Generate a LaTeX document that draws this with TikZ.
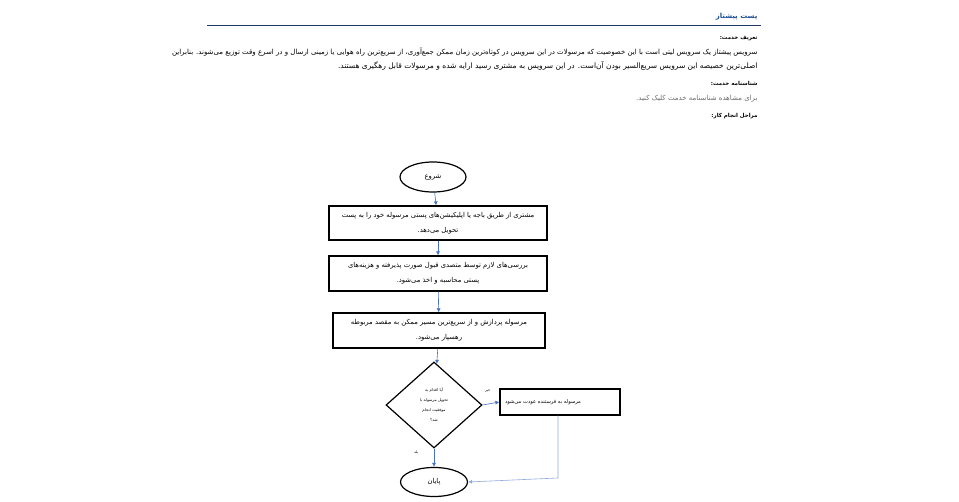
\documentclass[tikz,border=0pt]{standalone}
\usepackage{fontspec}
\usetikzlibrary{arrows.meta,shapes.geometric}
\newfontfamily\farsi[Script=Arabic]{DejaVu Sans}
\TeXXeTstate=1
\definecolor{flowblue}{RGB}{68,114,196}
\definecolor{titleblue}{RGB}{31,78,154}
\definecolor{rulenavy}{RGB}{31,56,100}
\definecolor{linkgray}{RGB}{110,110,110}

\begin{document}
\begin{tikzpicture}[x=1pt,y=-1pt,
    every node/.style={font=\farsi\fontsize{6.8}{15}\selectfont},
    heading/.style={anchor=east,font=\farsi\bfseries\fontsize{5.5}{7}\selectfont},
    textline/.style={anchor=east,font=\farsi\fontsize{7}{9}\selectfont},
    stepbox/.style={draw=black,line width=1.2pt,align=center,inner sep=2pt},
    terminal/.style={shape=ellipse,draw=black,line width=1.2pt,inner sep=0pt},
    decision/.style={shape=diamond,draw=black,line width=1.2pt,align=center,inner sep=0pt,
      font=\farsi\fontsize{4}{10}\selectfont},
    flow/.style={draw=flowblue,line width=0.6pt,-{Latex[length=4pt,width=4pt]}},
    small/.style={font=\farsi\fontsize{3.5}{4}\selectfont}]
    \useasboundingbox (0,0) rectangle (959,502);
    % header
    \node[heading,text=titleblue,font=\farsi\bfseries\fontsize{7}{9}\selectfont] (title) at (761,17) {\beginR پست پیشتاز\endR};
    \draw[rulenavy,line width=0.9pt] (207,25) -- (761,25);
    \node[heading] (def) at (761,38) {\beginR تعریف خدمت:\endR};
    \node[textline] (par1) at (761,52) {\beginR سرویس پیشتاز  یک سرویس لیتی است با این خصوصیت که مرسولات در این سرویس در کوتاه‌ترین زمان ممکن جمع‌آوری، از سریع‌ترین راه هوایی یا زمینی ارسال و در اسرع وقت توزیع می‌شوند. بنابراین\endR};
    \node[textline,font=\farsi\fontsize{7.5}{9}\selectfont] (par2) at (761,66) {\beginR اصلی‌ترین خصیصه این سرویس سریع‌السیر بودن آن‌است. در این سرویس به مشتری رسید ارایه شده و مرسولات قابل رهگیری هستند.\endR};
    \node[heading] (card) at (761,83) {\beginR شناسنامه خدمت:\endR};
    \node[textline,text=linkgray] (link) at (761,99) {\beginR برای مشاهده شناسنامه خدمت کلیک کنید.\endR};
    \node[heading] (steps) at (761,116) {\beginR مراحل انجام کار:\endR};
    % flowchart
    \node[terminal,minimum width=66pt,minimum height=30pt] (start) at (433,177) {\beginR شروع\endR};
    \node[stepbox,minimum width=218pt,minimum height=34pt] (s1) at (438,223)
        {\beginR مشتری از طریق باجه یا اپلیکیشن‌های پستی مرسوله خود را به پست\endR\\\beginR تحویل می‌دهد.\endR};
    \node[stepbox,minimum width=218pt,minimum height=35pt] (s2) at (438,273.5)
        {\beginR بررسی‌های لازم توسط متصدی قبول صورت پذیرفته و هزینه‌های\endR\\\beginR پستی محاسبه و اخذ می‌شود.\endR};
    \node[stepbox,minimum width=212pt,minimum height=35pt] (s3) at (439,330.5)
        {\beginR مرسوله پردازش و از سریع‌ترین مسیر ممکن به مقصد مربوطه\endR\\\beginR رهسپار می‌شود.\endR};
    \node[decision,minimum width=96pt,minimum height=86pt] (ask) at (434,405)
        {\beginR آیا اقدام به\endR\\\beginR تحویل مرسوله با\endR\\\beginR موفقیت انجام\endR\\\beginR شد؟\endR};
    \node[stepbox,minimum width=120pt,minimum height=26pt,text width=110pt,align=left,
        font=\farsi\fontsize{5.2}{7}\selectfont] (back) at (560,402)
        {\beginR مرسوله به فرستنده عودت می‌شود\endR};
    \node[terminal,minimum width=67pt,minimum height=29pt] (end) at (434,482) {\beginR پایان\endR};
    \coordinate (turn) at (558,478);
    % connectors
    \draw[flow] (start) -- (s1);
    \draw[flow] (s1) -- (s2);
    \draw[flow] (s2) -- (s3);
    \draw[flow] (s3) -- (ask);
    \draw[flow] (ask.east) -- node[small,pos=0.3,above=8pt]{\beginR خیر\endR} (back.west);
    \draw[flow] (ask.south) -- node[small,pos=0.2,left=12pt]{\beginR بله\endR} (end.north);
    \draw[flow,draw=flowblue!60] (back.south -| turn) -- (turn) -- (end.east);
\end{tikzpicture}
\end{document}
